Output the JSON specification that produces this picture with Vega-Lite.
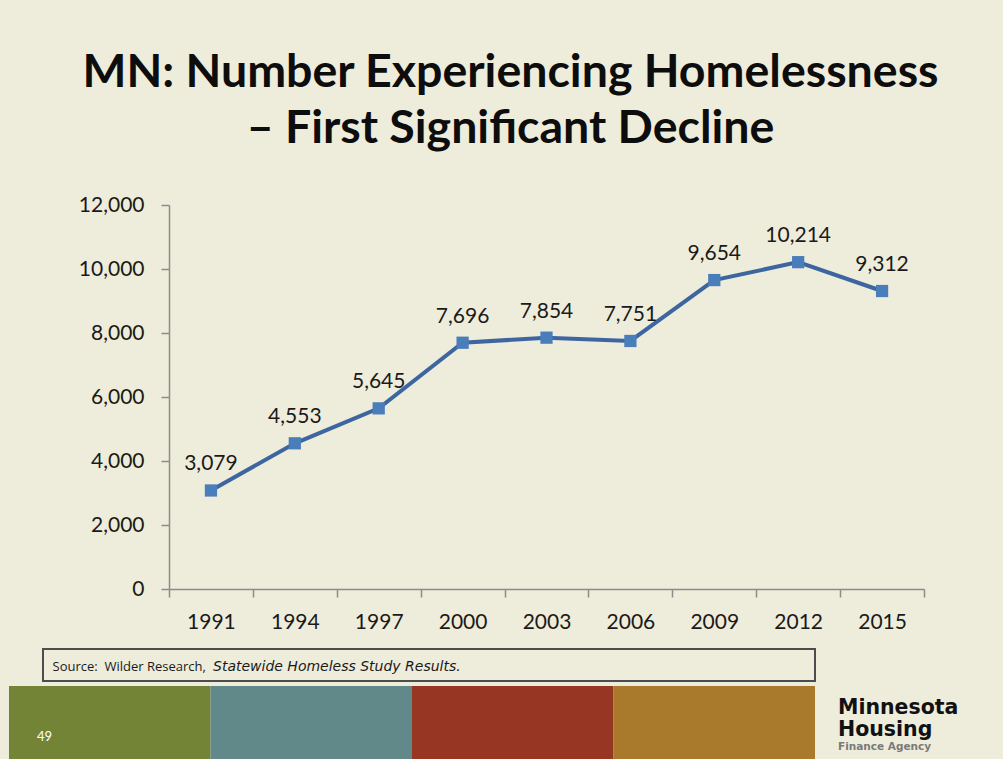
{
  "$schema": "https://vega.github.io/schema/vega-lite/v6.json",
  "width": 755,
  "height": 384,
  "autosize": {"type": "none"},
  "padding": {"left": 169, "top": 205, "right": 79, "bottom": 170},
  "background": "#EEECDB",
  "config": {"view": {"stroke": null}},
  "title": {
    "text": ["MN: Number Experiencing Homelessness", "– First Significant Decline"],
    "anchor": "middle",
    "frame": "group",
    "dx": -36,
    "font": "Lato",
    "fontSize": 46.5,
    "fontWeight": "bold",
    "color": "#0d0d0d",
    "lineHeight": 56,
    "offset": 42
  },
  "layer": [
    {
      "data": {"values": [
        {"year": "1991", "count": 3079},
        {"year": "1994", "count": 4553},
        {"year": "1997", "count": 5645},
        {"year": "2000", "count": 7696},
        {"year": "2003", "count": 7854},
        {"year": "2006", "count": 7751},
        {"year": "2009", "count": 9654},
        {"year": "2012", "count": 10214},
        {"year": "2015", "count": 9312}
      ]},
      "encoding": {
        "x": {
          "field": "year", "type": "ordinal", "sort": null,
          "scale": {"type": "band", "paddingInner": 0, "paddingOuter": 0},
          "axis": {
            "title": null, "labelAngle": 0, "tickBand": "extent",
            "labelFont": "Lato", "labelFontSize": 21, "labelColor": "#1a1a1a",
            "labelPadding": 14, "tickSize": 8, "tickColor": "#8c8c8c", "tickWidth": 1.5,
            "domainColor": "#8c8c8c", "domainWidth": 1.5
          }
        },
        "y": {
          "field": "count", "type": "quantitative",
          "scale": {"domain": [0, 12000], "nice": false},
          "axis": {
            "title": null, "values": [0, 2000, 4000, 6000, 8000, 10000, 12000],
            "labelExpr": "format(datum.value, ',')",
            "grid": false, "labelFont": "Lato", "labelFontSize": 21, "labelColor": "#1a1a1a",
            "labelPadding": 17, "tickSize": 8, "tickColor": "#8c8c8c", "tickWidth": 1.5,
            "domainColor": "#8c8c8c", "domainWidth": 1.5
          }
        }
      },
      "layer": [
        {"mark": {"type": "line", "color": "#3d66a0", "strokeWidth": 4}},
        {"mark": {"type": "point", "shape": "square", "filled": true, "size": 150, "color": "#4a7ebb", "opacity": 1}},
        {"mark": {"type": "text", "font": "Lato", "fontSize": 21, "color": "#1a1a1a", "baseline": "alphabetic", "dy": -20},
         "encoding": {"text": {"field": "count", "type": "quantitative", "format": ","}}}
      ]
    },
    {
      "data": {"values": [{"seg": "1"}, {"seg": "2"}, {"seg": "3"}, {"seg": "4"}]},
      "mark": {"type": "rect"},
      "encoding": {
        "x": {"field": "seg", "type": "nominal", "axis": null,
              "scale": {"type": "band", "domain": ["1", "2", "3", "4", "5"], "range": [-160, 847.5], "paddingInner": 0, "paddingOuter": 0}},
        "y": {"datum": "strip", "type": "nominal", "axis": null,
              "scale": {"type": "band", "domain": ["strip"], "range": [481, 554], "paddingInner": 0, "paddingOuter": 0}},
        "color": {"field": "seg", "type": "nominal", "legend": null,
                  "scale": {"domain": ["1", "2", "3", "4"], "range": ["#748436", "#628989", "#973622", "#a9792c"]}}
      }
    },
    {
      "data": {"values": [{"page": "49"}]},
      "mark": {"type": "text", "font": "Lato", "fontSize": 13, "color": "#ffffff", "align": "left", "baseline": "middle", "dx": 28, "dy": 14},
      "encoding": {
        "x": {"datum": "1", "type": "nominal", "axis": null, "bandPosition": 0,
              "scale": {"type": "band", "domain": ["1", "2", "3", "4", "5"], "range": [-160, 847.5], "paddingInner": 0, "paddingOuter": 0}},
        "y": {"datum": "strip", "type": "nominal", "axis": null, "bandPosition": 0.5,
              "scale": {"type": "band", "domain": ["strip"], "range": [481, 554], "paddingInner": 0, "paddingOuter": 0}},
        "text": {"field": "page"}
      }
    },
    {
      "data": {"values": [{"name": "Minnesota"}]},
      "mark": {"type": "text", "font": "DejaVu Sans", "fontSize": 20.5, "fontWeight": "bold", "color": "#111111", "align": "left", "baseline": "alphabetic", "dx": 23, "dy": -8.5},
      "encoding": {
        "x": {"datum": "5", "type": "nominal", "axis": null, "bandPosition": 0,
              "scale": {"type": "band", "domain": ["1", "2", "3", "4", "5"], "range": [-160, 847.5], "paddingInner": 0, "paddingOuter": 0}},
        "y": {"datum": "strip", "type": "nominal", "axis": null, "bandPosition": 0.5,
              "scale": {"type": "band", "domain": ["strip"], "range": [481, 554], "paddingInner": 0, "paddingOuter": 0}},
        "text": {"field": "name"}
      }
    },
    {
      "data": {"values": [{"name": "Housing"}]},
      "mark": {"type": "text", "font": "DejaVu Sans", "fontSize": 20.5, "fontWeight": "bold", "color": "#111111", "align": "left", "baseline": "alphabetic", "dx": 23, "dy": 13.5},
      "encoding": {
        "x": {"datum": "5", "type": "nominal", "axis": null, "bandPosition": 0,
              "scale": {"type": "band", "domain": ["1", "2", "3", "4", "5"], "range": [-160, 847.5], "paddingInner": 0, "paddingOuter": 0}},
        "y": {"datum": "strip", "type": "nominal", "axis": null, "bandPosition": 0.5,
              "scale": {"type": "band", "domain": ["strip"], "range": [481, 554], "paddingInner": 0, "paddingOuter": 0}},
        "text": {"field": "name"}
      }
    },
    {
      "data": {"values": [{"name": "Finance Agency"}]},
      "mark": {"type": "text", "font": "DejaVu Sans", "fontSize": 10.5, "fontWeight": "bold", "color": "#7a7a7a", "align": "left", "baseline": "alphabetic", "dx": 23, "dy": 27.5},
      "encoding": {
        "x": {"datum": "5", "type": "nominal", "axis": null, "bandPosition": 0,
              "scale": {"type": "band", "domain": ["1", "2", "3", "4", "5"], "range": [-160, 847.5], "paddingInner": 0, "paddingOuter": 0}},
        "y": {"datum": "strip", "type": "nominal", "axis": null, "bandPosition": 0.5,
              "scale": {"type": "band", "domain": ["strip"], "range": [481, 554], "paddingInner": 0, "paddingOuter": 0}},
        "text": {"field": "name"}
      }
    },
    {
      "data": {"values": [{"box": "src"}]},
      "mark": {"type": "rect", "filled": false, "color": "#4d4d4d", "strokeWidth": 2},
      "encoding": {
        "x": {"datum": "src", "type": "nominal", "axis": null,
              "scale": {"type": "band", "domain": ["src"], "range": [-126, 646], "paddingInner": 0, "paddingOuter": 0}},
        "y": {"datum": "src", "type": "nominal", "axis": null,
              "scale": {"type": "band", "domain": ["src"], "range": [444, 476], "paddingInner": 0, "paddingOuter": 0}}
      }
    },
    {
      "data": {"values": [{"part": "Source:\u00a0 Wilder Research,"}]},
      "mark": {"type": "text", "font": "Open Sans", "fontSize": 13, "color": "#1a1a1a", "align": "left", "baseline": "middle", "dx": 9.5, "dy": 2},
      "encoding": {
        "x": {"datum": "src", "type": "nominal", "axis": null, "bandPosition": 0,
              "scale": {"type": "band", "domain": ["src"], "range": [-126, 646], "paddingInner": 0, "paddingOuter": 0}},
        "y": {"datum": "src", "type": "nominal", "axis": null, "bandPosition": 0.5,
              "scale": {"type": "band", "domain": ["src"], "range": [444, 476], "paddingInner": 0, "paddingOuter": 0}},
        "text": {"field": "part"}
      }
    },
    {
      "data": {"values": [{"part": "Statewide Homeless Study Results."}]},
      "mark": {"type": "text", "font": "DejaVu Sans", "fontSize": 14, "fontStyle": "italic", "color": "#1a1a1a", "align": "left", "baseline": "middle", "dx": 170, "dy": 2},
      "encoding": {
        "x": {"datum": "src", "type": "nominal", "axis": null, "bandPosition": 0,
              "scale": {"type": "band", "domain": ["src"], "range": [-126, 646], "paddingInner": 0, "paddingOuter": 0}},
        "y": {"datum": "src", "type": "nominal", "axis": null, "bandPosition": 0.5,
              "scale": {"type": "band", "domain": ["src"], "range": [444, 476], "paddingInner": 0, "paddingOuter": 0}},
        "text": {"field": "part"}
      }
    }
  ],
  "resolve": {"scale": {"x": "independent", "y": "independent", "color": "independent"}}
}
